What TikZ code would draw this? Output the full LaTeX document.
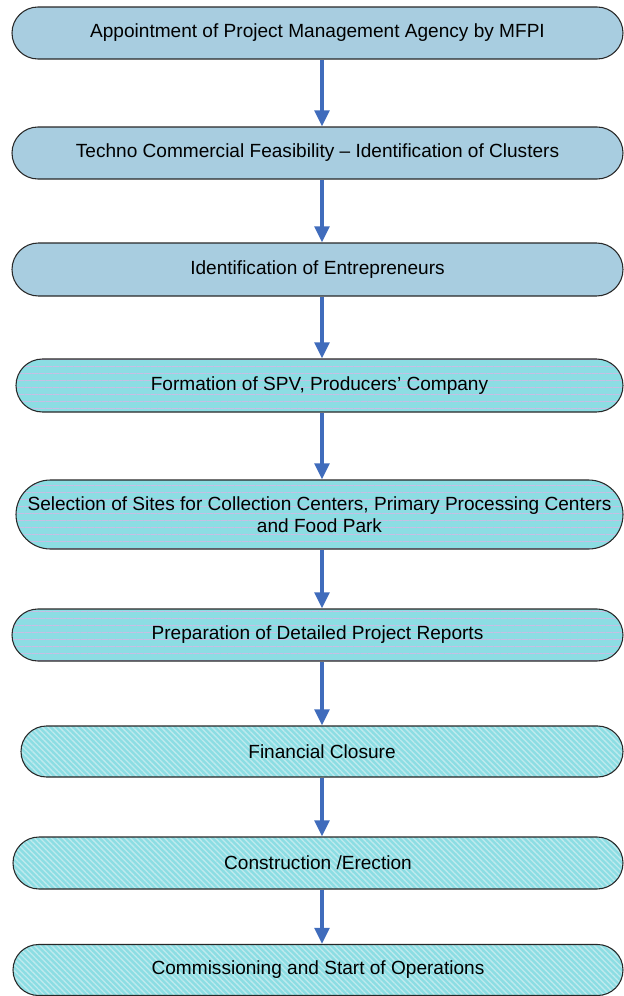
\documentclass[tikz,border=0pt]{standalone}
\usepackage{fontspec}
\setmainfont{Liberation Sans}
\usetikzlibrary{shapes.misc,arrows.meta,patterns.meta}
\definecolor{boxblue}{RGB}{168,205,224}
\definecolor{boxcyan}{RGB}{140,221,227}
\definecolor{stripelav}{RGB}{200,190,228}
\definecolor{stripelight}{RGB}{190,234,238}
\definecolor{arrowblue}{RGB}{64,108,188}
\definecolor{edgegray}{RGB}{40,40,40}
\tikzset{
  stage/.style={rounded rectangle, draw=edgegray, line width=0.8pt, inner sep=0pt,
    font=\fontsize{14.3}{16.5}\selectfont, align=center, text=black},
  stageA/.style={stage, fill=boxblue},
  stageB/.style={stage, preaction={fill=boxcyan}, preaction={pattern={Lines[angle=0,distance=5.25pt,line width=0.7pt]}, pattern color=stripelav}},
  stageC/.style={stage, preaction={fill=boxcyan}, preaction={pattern={Lines[angle=-45,distance=3pt,line width=1pt]}, pattern color=stripelight}},
  flow/.style={draw=arrowblue, line width=2.4pt, -{Triangle[width=11pt,length=12pt]}},
}
\begin{document}
\begin{tikzpicture}[x=0.75pt,y=-0.75pt]
\useasboundingbox (0,0) rectangle (624,996);
\node[stageA, minimum width=458.25pt, minimum height=39pt] (n1) at (317.5,33) {Appointment of Project Management Agency by MFPI};
\node[stageA, minimum width=458.25pt, minimum height=39pt] (n2) at (317.5,153) {Techno Commercial Feasibility – Identification of Clusters};
\node[stageA, minimum width=458.25pt, minimum height=39.75pt] (n3) at (317.5,269.5) {Identification of Entrepreneurs};
\node[stageB, minimum width=455.25pt, minimum height=39.75pt] (n4) at (319.5,385.5) {Formation of SPV, Producers’ Company};
\node[stageB, minimum width=455.25pt, minimum height=51.75pt] (n5) at (319.5,514.5) {Selection of Sites for Collection Centers, Primary Processing Centers\\and Food Park};
\node[stageB, minimum width=458.25pt, minimum height=39pt] (n6) at (317.5,635) {Preparation of Detailed Project Reports};
\node[stageC, minimum width=451.5pt, minimum height=38.25pt] (n7) at (322,751.5) {Financial Closure};
\node[stageC, minimum width=457.5pt, minimum height=39pt] (n8) at (318,863) {Construction /Erection};
\node[stageC, minimum width=457.5pt, minimum height=38.25pt] (n9) at (318,970) {Commissioning and Start of Operations};
\coordinate (ax) at (322,0);
\draw[flow] (n1.south -| ax) -- (n2.north -| ax);
\draw[flow] (n2.south -| ax) -- (n3.north -| ax);
\draw[flow] (n3.south -| ax) -- (n4.north -| ax);
\draw[flow] (n4.south -| ax) -- (n5.north -| ax);
\draw[flow] (n5.south -| ax) -- (n6.north -| ax);
\draw[flow] (n6.south -| ax) -- (n7.north -| ax);
\draw[flow] (n7.south -| ax) -- (n8.north -| ax);
\draw[flow] (n8.south -| ax) -- (n9.north -| ax);
\end{tikzpicture}
\end{document}
